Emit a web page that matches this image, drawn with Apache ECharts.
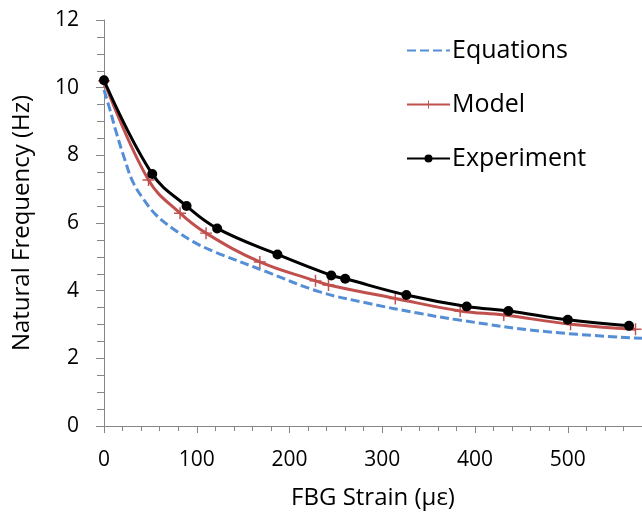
<!DOCTYPE html>
<html>
<head>
<meta charset="utf-8">
<script src="https://cdn.jsdelivr.net/npm/echarts@6/dist/echarts.min.js"></script>
<style>
html,body{margin:0;padding:0;background:#fff;}
#chart{width:642px;height:515px;}
</style>
</head>
<body>
<div id="chart"></div>
<script>
// Equations (dashed blue)
var eqStrain = [0, 6, 13, 22, 31, 42, 56, 74, 96, 117, 128, 175, 232, 286, 340, 383, 476, 580];
var eqFreq   = [9.93, 9.39, 8.70, 7.91, 7.22, 6.73, 6.24, 5.84, 5.45, 5.17, 5.05, 4.56, 3.97, 3.62, 3.33, 3.13, 2.79, 2.59];
// Model (red, + markers)
var modelStrain = [0, 48, 82, 110, 168, 228, 242, 314, 384, 431, 503, 573];
var modelFreq   = [10.2, 7.27, 6.29, 5.70, 4.85, 4.29, 4.17, 3.77, 3.40, 3.28, 3.01, 2.86];
// Experiment (black, dot markers)
var expStrain = [0, 52, 89, 122, 187, 245, 260, 326, 391, 436, 500, 566];
var expFreq   = [10.22, 7.45, 6.50, 5.84, 5.07, 4.45, 4.35, 3.87, 3.53, 3.40, 3.14, 2.96];

var xTicks = [0, 100, 200, 300, 400, 500];
var yTicks = [0, 2, 4, 6, 8, 10, 12];

function pairs(xs, ys){ return xs.map(function(x,i){ return [x, ys[i]]; }); }

var FONT = 'Open Sans';
var axisGray = '#868686';
var plusPath = 'path://M0.44,0H0.56V0.44H1V0.56H0.56V1H0.44V0.56H0V0.44H0.44Z';
var chart = echarts.init(document.getElementById('chart'), null, {renderer:'canvas'});
chart.setOption({
  animation:false,
  backgroundColor:'#fff',
  grid:{left:104, right:0, top:20, bottom:89, containLabel:false},
  legend:{
    orient:'vertical', left:401, top:33,
    itemWidth:43, itemHeight:10, itemGap:29,
    textStyle:{fontFamily:FONT, fontSize:25, color:'#000', padding:[0,0,0,-3]},
    data:[
      {name:'Equations', itemStyle:{opacity:0}},
      {name:'Model'},
      {name:'Experiment'}
    ]
  },
  xAxis:{
    type:'value', min:0, max:580, interval:100,
    name:'FBG Strain (με)', nameLocation:'middle', nameGap:60,
    nameTextStyle:{fontFamily:FONT, fontSize:24, color:'#000'},
    axisLine:{show:true, lineStyle:{color:axisGray, width:1}},
    axisTick:{show:true, length:7, inside:false, lineStyle:{color:axisGray}},
    minorTick:{show:true, splitNumber:5, length:5, lineStyle:{color:axisGray}},
    axisLabel:{fontFamily:FONT, fontSize:21, color:'#000', margin:24, showMaxLabel:false,
      formatter:function(v){ return xTicks.indexOf(v)>=0 ? String(v) : ''; }},
    splitLine:{show:false}
  },
  yAxis:{
    type:'value', min:0, max:12, interval:2,
    name:'Natural Frequency (Hz)', nameLocation:'middle', nameGap:70, nameRotate:90,
    nameTextStyle:{fontFamily:FONT, fontSize:24, color:'#000'},
    axisLine:{show:true, lineStyle:{color:axisGray, width:1}},
    axisTick:{show:true, length:8, lineStyle:{color:axisGray}},
    minorTick:{show:true, splitNumber:4, length:7, lineStyle:{color:axisGray}},
    axisLabel:{fontFamily:FONT, fontSize:21, color:'#000', margin:25,
      formatter:function(v){ return yTicks.indexOf(v)>=0 ? String(v) : ''; }},
    splitLine:{show:false}
  },
  series:[
    {
      name:'Equations', type:'line', smooth:0.4, showSymbol:false, symbol:'none',
      data:pairs(eqStrain, eqFreq),
      lineStyle:{color:'#558ED5', width:3, type:[9,4]},
      itemStyle:{color:'#558ED5'}, z:2
    },
    {
      name:'Model', type:'line', smooth:0.4,
      symbol:plusPath, symbolSize:12,
      data:pairs(modelStrain, modelFreq),
      lineStyle:{color:'#C0504D', width:3},
      itemStyle:{color:'#C0504D'}, z:3
    },
    {
      name:'Experiment', type:'line', smooth:0.4,
      symbol:'circle', symbolSize:10,
      data:pairs(expStrain, expFreq),
      lineStyle:{color:'#000', width:3},
      itemStyle:{color:'#000'}, z:4
    }
  ]
});
</script>
</body>
</html>
